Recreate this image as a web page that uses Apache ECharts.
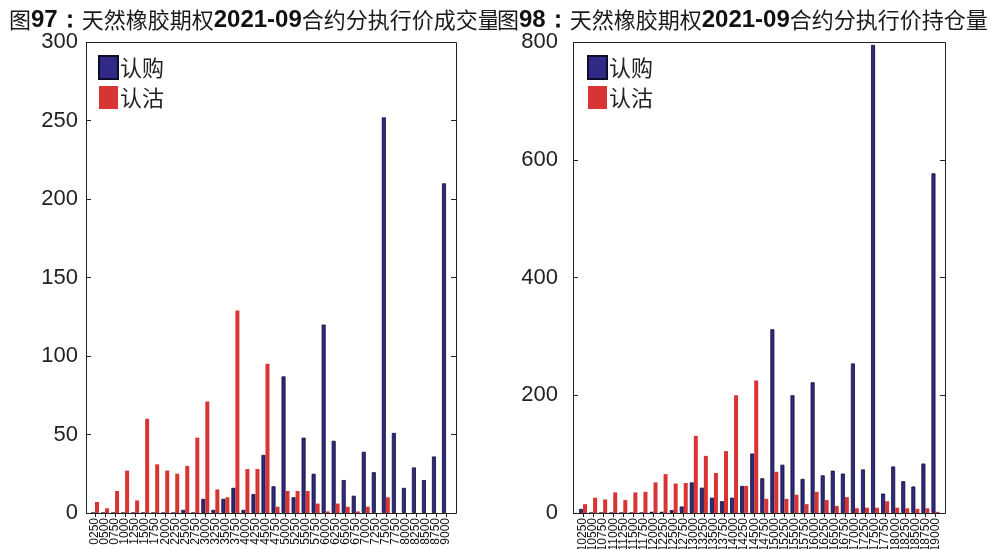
<!DOCTYPE html>
<html>
<head>
<meta charset="utf-8">
<script src="https://cdn.jsdelivr.net/npm/echarts@6/dist/echarts.min.js"></script>
<style>html,body{margin:0;padding:0;background:#fff;}#c{width:998px;height:549px;}</style>
</head>
<body>
<div id="c"></div>
<script>
const categoriesLeft = ['0250','0500','0750','1000','1250','1500','1750','2000','2250','2500','2750','3000','3250','3500','3750','4000','4250','4500','4750','5000','5250','5500','5750','6000','6250','6500','6750','7000','7250','7500','7750','8000','8250','8500','8750','9000'];
const callVolume = [0,0,0,0,0,0,0,0,0,2,0,9,2,9,16,2,12,37,17,87,10,48,25,120,46,21,11,39,26,252,51,16,29,21,36,210];
const putVolume = [7,3,14,27,8,60,31,27,25,30,48,71,15,10,129,28,28,95,4,14,14,14,6,1,6,4,1,4,0,10,0,0,0,0,0,0];

const categoriesRight = ['10250','10500','10750','11000','11250','11500','11750','12000','12250','12500','12750','13000','13250','13500','13750','14000','14250','14500','14750','15000','15250','15500','15750','16000','16250','16500','16750','17000','17250','17500','17750','18000','18250','18500','18750','19000'];
const callOI = [7,0,0,0,0,0,0,2,2,5,11,52,43,26,20,26,46,101,59,312,82,200,58,222,64,72,67,254,74,795,33,79,54,45,84,577];
const putOI = [15,26,23,35,22,35,36,52,66,50,51,131,97,68,105,200,46,225,24,70,24,31,15,36,22,12,27,8,9,9,20,9,8,7,8,2];

const leftTicksY = {min: 0, max: 300, interval: 50};
const rightTicksY = {min: 0, max: 800, interval: 200};

const CALL = '认购', PUT = '认沽';
const titleLeft = '{a|图}{b|97：}{a|天然橡胶期权}{b|2021-09}{a|合约分执行价成交量}';
const titleRight = '{a|图}{b|98：}{a|天然橡胶期权}{b|2021-09}{a|合约分执行价持仓量}';

const chart = echarts.init(document.getElementById('c'), null, {renderer: 'canvas'});
const richT = {
  a: {fontSize: 22, fontWeight: 'normal', fontFamily: 'Noto Sans CJK SC', color: '#1a1a1a'},
  b: {fontSize: 24, fontWeight: 'bold', fontFamily: 'Liberation Sans', color: '#111'}
};
const blueStyle = {color: '#302a86', borderColor: '#0d0d2a', borderWidth: 0.8};
const redStyle = {color: '#d83434'};
function xAxes(grid, data) {
  return [
    {gridIndex: grid, type: 'category', data: data, axisLine: {show: false}, axisTick: {show: false},
     axisLabel: {rotate: 90, interval: 0, fontSize: 12, margin: 5, color: '#111', fontFamily: 'Liberation Sans'}},
    {gridIndex: grid, type: 'category', position: 'top', data: data, axisLine: {show: false},
     axisTick: {show: true, inside: true, length: 4, alignWithLabel: true, interval: 0, lineStyle: {color: '#222'}},
     axisLabel: {show: false}}
  ];
}
function yAxes(grid, t, offL, offR, margin) {
  return [
    {gridIndex: grid, type: 'value', min: t.min, max: t.max, interval: t.interval, offset: offL,
     axisLine: {show: false}, splitLine: {show: false},
     axisTick: {show: true, inside: true, length: 5, lineStyle: {color: '#222'}},
     axisLabel: {fontSize: 22, color: '#222', margin: margin, fontFamily: 'Liberation Sans'}},
    {gridIndex: grid, type: 'value', position: 'right', min: t.min, max: t.max, interval: t.interval, offset: offR,
     axisLine: {show: false}, splitLine: {show: false},
     axisTick: {show: true, inside: true, length: 5, lineStyle: {color: '#222'}},
     axisLabel: {show: false}}
  ];
}
function legend(left) {
  return {left: left, top: 55, padding: 0, orient: 'vertical', itemWidth: 19, itemHeight: 23, itemGap: 6, icon: 'rect',
    data: [CALL, PUT], selectedMode: false,
    textStyle: {fontSize: 22, fontFamily: 'Noto Sans CJK SC', color: '#222', padding: [0, 0, 0, -3]}};
}
chart.setOption({
  animation: false,
  backgroundColor: '#fff',
  title: [
    {left: 9, top: 8, padding: 0, text: titleLeft, textStyle: {rich: richT}},
    {left: 497, top: 8, padding: 0, z: 8, backgroundColor: '#fff', text: titleRight, textStyle: {rich: richT}}
  ],
  legend: [legend(98), legend(587)],
  grid: [
    {left: 90, right: 547, top: 42, bottom: 36, outerBoundsMode: 'none', containLabel: false},
    {left: 578, right: 57.5, top: 42, bottom: 36, outerBoundsMode: 'none', containLabel: false}
  ],
  xAxis: xAxes(0, categoriesLeft).concat(xAxes(1, categoriesRight)),
  yAxis: yAxes(0, leftTicksY, 4, 5, 8).concat(yAxes(1, rightTicksY, 5, 4.5, 15)),
  series: [
    {type: 'bar', name: CALL, xAxisIndex: 0, yAxisIndex: 0, data: callVolume, barWidth: 4, barGap: '0%', itemStyle: blueStyle},
    {type: 'bar', name: PUT, xAxisIndex: 0, yAxisIndex: 0, data: putVolume, barWidth: 4, barGap: '0%', itemStyle: redStyle},
    {type: 'bar', name: CALL, xAxisIndex: 2, yAxisIndex: 2, data: callOI, barWidth: 4, barGap: '0%', itemStyle: blueStyle},
    {type: 'bar', name: PUT, xAxisIndex: 2, yAxisIndex: 2, data: putOI, barWidth: 4, barGap: '0%', itemStyle: redStyle}
  ],
  graphic: [
    {type: 'rect', z: 10, silent: true, shape: {x: 86.5, y: 42.5, width: 370, height: 471}, style: {fill: null, stroke: '#222', lineWidth: 1}},
    {type: 'rect', z: 10, silent: true, shape: {x: 573.5, y: 42.5, width: 372, height: 471}, style: {fill: null, stroke: '#222', lineWidth: 1}}
  ]
});
</script>
</body>
</html>
